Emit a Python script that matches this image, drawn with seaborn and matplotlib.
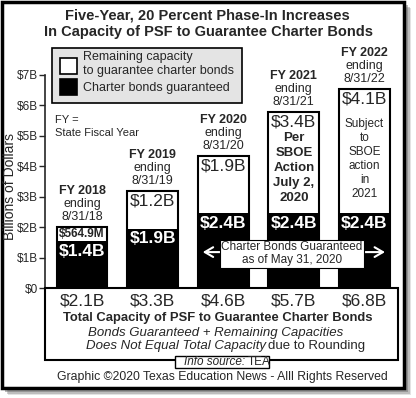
import matplotlib
matplotlib.use('Agg')
import matplotlib.pyplot as plt
from matplotlib.patches import Rectangle
import seaborn as sns
import pandas as pd

# values (bar heights in $ billions)
years = ['FY 2018', 'FY 2019', 'FY 2020', 'FY 2021', 'FY 2022']
ending = ['8/31/18', '8/31/19', '8/31/20', '8/31/21', '8/31/22']
guaranteed = [1.54, 1.95, 2.45, 2.45, 2.45]
remaining = [0.46, 1.25, 1.9, 3.33, 4.1]
guar_labels = ['$1.4B', '$1.9B', '$2.4B', '$2.4B', '$2.4B']
rem_labels = ['$564.9M', '$1.2B', '$1.9B', '$3.4B', '$4.1B']
total_labels = ['$2.1B', '$3.3B', '$4.6B', '$5.7B', '$6.8B']
note_2021 = ['Per', 'SBOE', 'Action', 'July 2,', '2020']
note_2022 = ['Subject', 'to', 'SBOE', 'action', 'in', '2021']
yticks = list(range(8))
ytick_labels = ['$0'] + ['$%dB' % v for v in yticks[1:]]

sns.set_style('white')
plt.rcParams['font.family'] = ['Liberation Sans', 'DejaVu Sans']
plt.rcParams['text.parse_math'] = False

W, H = 416, 398
fig = plt.figure(figsize=(W / 100, H / 100), dpi=100)


def fx(x):
    return x / W


def fy(y):
    return 1 - y / H


# outer frame with soft shadow
for off, a in [(7, 0.18), (5.5, 0.3), (4, 0.45)]:
    fig.add_artist(Rectangle((fx(1 + off), fy(388 + off)), 403 / W, 387 / H,
                             transform=fig.transFigure, facecolor='#666666',
                             edgecolor='none', alpha=a, zorder=-20))
fig.add_artist(Rectangle((fx(1.5), fy(388)), 402 / W, 386.5 / H,
                         transform=fig.transFigure, facecolor='white',
                         edgecolor='black', lw=2.5, zorder=-10))

fig.text(fx(207), fy(16), 'Five-Year, 20 Percent Phase-In Increases',
         ha='center', va='center', fontsize=10.5, fontweight='bold')
fig.text(fx(208), fy(32), 'In Capacity of PSF to Guarantee Charter Bonds',
         ha='center', va='center', fontsize=10.5, fontweight='bold')

ax = fig.add_axes([fx(45), fy(288), 353 / W, 213 / H])
ax.patch.set_visible(False)

df = pd.DataFrame({'year': years, 'guaranteed': guaranteed, 'remaining': remaining})
df['top'] = df['guaranteed'] + df['remaining']

sns.barplot(data=df, x='year', y='top', color='white', edgecolor='black',
            linewidth=1.5, width=0.72, saturation=1, errorbar=None, ax=ax)
sns.barplot(data=df, x='year', y='guaranteed', color='black', edgecolor='black',
            linewidth=0, width=0.72, saturation=1, errorbar=None, ax=ax)

ax.set_xlim(-0.525, 4.475)
ax.set_ylim(0, 7)
ax.set_xticks([])
ax.set_xlabel('')
ax.set_ylabel('')
ax.set_yticks(yticks)
ax.set_yticklabels(ytick_labels)
sns.despine(ax=ax, bottom=True)
ax.spines['left'].set_linewidth(1.2)
ax.tick_params(axis='y', left=True, length=4, width=1, pad=1, labelsize=8.5,
               direction='out')

fig.text(fx(10), fy(187), 'Billions of Dollars', rotation=90,
         ha='center', va='center', fontsize=10)

for i, row in df.iterrows():
    top = row['top']
    # header above each bar
    ax.annotate(years[i], (i, top), xytext=(0, 36), textcoords='offset pixels',
                ha='center', va='center', fontsize=9, fontweight='bold')
    ax.annotate('ending', (i, top), xytext=(0, 23), textcoords='offset pixels',
                ha='center', va='center', fontsize=9)
    ax.annotate(ending[i], (i, top), xytext=(0, 10), textcoords='offset pixels',
                ha='center', va='center', fontsize=9)
    # remaining capacity label
    if i == 0:
        ax.annotate(rem_labels[i], (i, top), xytext=(0, -7), textcoords='offset pixels',
                    ha='center', va='center', fontsize=8.5, fontweight='bold')
    else:
        ax.annotate(rem_labels[i], (i, top), xytext=(0, -10), textcoords='offset pixels',
                    ha='center', va='center', fontsize=12.5)
    # guaranteed label
    ax.annotate(guar_labels[i], (i, row['guaranteed']), xytext=(0, -10),
                textcoords='offset pixels', ha='center', va='center',
                fontsize=12.5, fontweight='bold', color='white')

for k, line in enumerate(note_2021):
    ax.annotate(line, (3, df['top'][3]), xytext=(0, -26 - 15 * k),
                textcoords='offset pixels', ha='center', va='center',
                fontsize=9.5, fontweight='bold')
for k, line in enumerate(note_2022):
    ax.annotate(line, (4, df['top'][4]), xytext=(0, -35 - 14 * k),
                textcoords='offset pixels', ha='center', va='center',
                fontsize=8.5)

# charter bonds guaranteed callout
ya = 1.18
ax.annotate('', xy=(1.67, ya), xytext=(2.3, ya),
            arrowprops=dict(arrowstyle='->,head_length=0.6,head_width=0.35',
                            color='white', lw=1.5), zorder=4)
ax.annotate('', xy=(4.33, ya), xytext=(3.7, ya),
            arrowprops=dict(arrowstyle='->,head_length=0.6,head_width=0.35',
                            color='white', lw=1.5), zorder=4)
ax.text(2.975, 1.12, 'Charter Bonds Guaranteed\nas of May 31, 2020',
        ha='center', va='center', fontsize=8.5, linespacing=1.1, zorder=5,
        bbox=dict(boxstyle='square,pad=0.15', fc='white', ec='black', lw=0.8))

# legend
fig.add_artist(Rectangle((fx(52), fy(103)), 190 / W, 55 / H, transform=fig.transFigure,
                         facecolor='#e4e4e4', edgecolor='black', lw=1.2))
fig.add_artist(Rectangle((fx(60), fy(74)), 17 / W, 16 / H, transform=fig.transFigure,
                         facecolor='white', edgecolor='black', lw=1.2, zorder=2))
fig.add_artist(Rectangle((fx(60), fy(95)), 17 / W, 16 / H, transform=fig.transFigure,
                         facecolor='black', edgecolor='black', lw=1.2, zorder=2))
fig.text(fx(83), fy(57), 'Remaining capacity', ha='left', va='center', fontsize=9)
fig.text(fx(83), fy(71), 'to guarantee charter bonds', ha='left', va='center', fontsize=9)
fig.text(fx(83), fy(88), 'Charter bonds guaranteed', ha='left', va='center', fontsize=9)

fig.text(fx(55), fy(120), 'FY =', ha='left', va='center', fontsize=8)
fig.text(fx(55), fy(133), 'State Fiscal Year', ha='left', va='center', fontsize=8)

# bottom total-capacity box
fig.add_artist(Rectangle((fx(45), fy(360)), 353 / W, 72 / H, transform=fig.transFigure,
                         facecolor='none', edgecolor='black', lw=1.5))
for i, lab in enumerate(total_labels):
    ax.text(i, -0.062, lab, transform=ax.get_xaxis_transform(),
            ha='center', va='center', fontsize=12.5)
fig.text(fx(218), fy(318), 'Total Capacity of PSF to Guarantee Charter Bonds',
         ha='center', va='center', fontsize=9.4, fontweight='bold')
fig.text(fx(216), fy(333), 'Bonds Guaranteed + Remaining Capacities',
         ha='center', va='center', fontsize=9.5, style='italic')
fig.text(fx(266), fy(346), 'Does Not Equal Total Capacity', ha='right', va='center',
         fontsize=9.5, style='italic')
fig.text(fx(268.5), fy(346), 'due to Rounding', ha='left', va='center', fontsize=9.5)

fig.add_artist(Rectangle((fx(175), fy(368)), 94 / W, 12 / H, transform=fig.transFigure,
                         facecolor='white', edgecolor='black', lw=1, zorder=2))
fig.text(fx(245.5), fy(362), 'Info source:', ha='right', va='center',
         fontsize=8.5, style='italic', zorder=3)
fig.text(fx(248), fy(362), 'TEA', ha='left', va='center', fontsize=8.5, zorder=3)

fig.text(fx(222), fy(377), 'Graphic \u00a92020 Texas Education News - Alll Rights Reserved',
         ha='center', va='center', fontsize=8.8)

fig.savefig('out.png', dpi=100)
